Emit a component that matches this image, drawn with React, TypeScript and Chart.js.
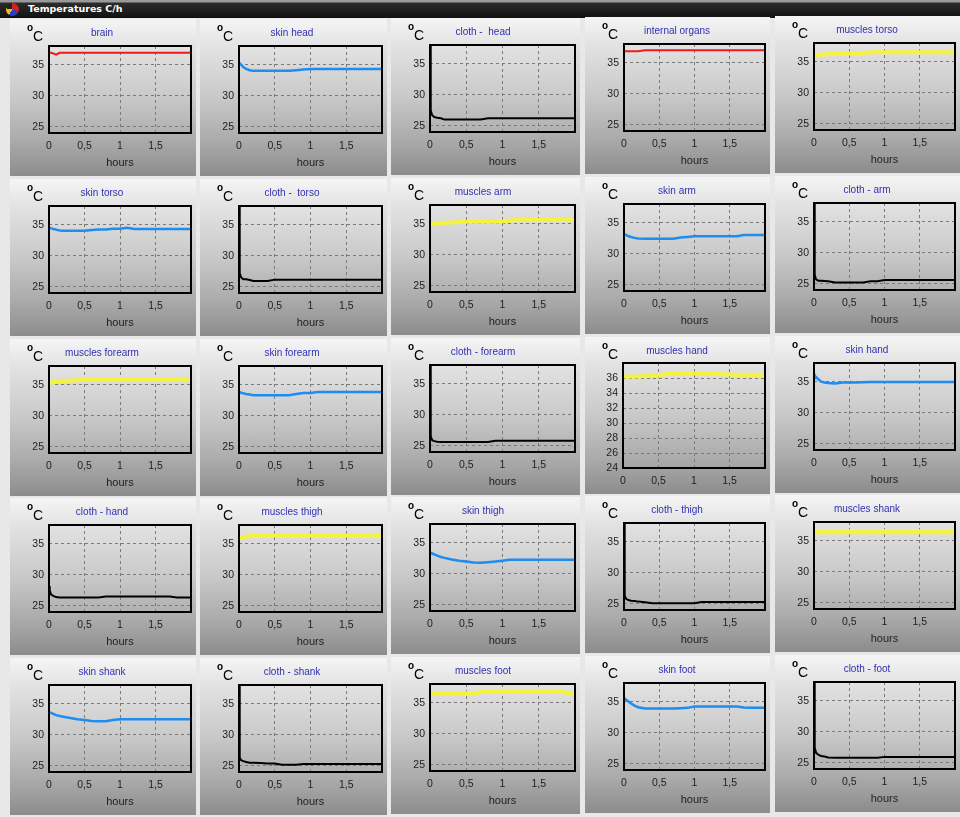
import React, { useEffect, useRef } from 'react';
import { Chart, registerables } from 'chart.js';

Chart.register(...registerables);

// ---------- DATA ----------
const TIME = [0, 0.01, 0.03, 0.06, 0.1, 0.15, 0.2, 0.3, 0.4, 0.5, 0.6, 0.7, 0.8, 0.9, 1.0, 1.1, 1.2, 1.4, 1.6, 1.7, 1.8, 2.0];

const X_TICKS = [0, 0.5, 1, 1.5];
const X_TICK_LABELS = ['0', '0,5', '1', '1,5'];
const Y_TICKS = [25, 30, 35];
const Y_TICKS_FINE = [24, 26, 28, 30, 32, 34, 36];
const Y_MIN = 24;
const Y_MAX = 38;
const X_MIN = 0;
const X_MAX = 2;

const BRAIN = [36.9, 36.9, 36.9, 36.8, 36.6, 36.9, 36.9, 36.9, 36.9, 36.9, 36.9, 36.9, 36.9, 36.9, 36.9, 36.9, 36.9, 36.9, 36.9, 36.9, 36.9, 36.9];
const SKIN_HEAD = [35.3, 35.2, 35.0, 34.6, 34.3, 34.1, 34.0, 34.0, 34.0, 34.0, 34.0, 34.0, 34.1, 34.2, 34.3, 34.3, 34.3, 34.3, 34.3, 34.3, 34.3, 34.3];
const CLOTH_HEAD = [37.9, 27.5, 26.7, 26.4, 26.3, 26.2, 26.0, 26.0, 26.0, 26.0, 26.0, 26.0, 26.2, 26.2, 26.2, 26.2, 26.2, 26.2, 26.2, 26.2, 26.2, 26.2];
const INTERNAL_ORGANS = [36.85, 36.85, 36.85, 36.85, 36.85, 36.85, 36.85, 37.0, 37.0, 37.0, 37.0, 37.0, 37.0, 37.0, 37.0, 37.0, 37.0, 37.0, 37.0, 37.0, 37.0, 37.0];
const MUSCLES_TORSO = [36.1, 36.1, 36.1, 36.1, 36.1, 36.15, 36.2, 36.3, 36.3, 36.3, 36.35, 36.4, 36.5, 36.5, 36.5, 36.5, 36.5, 36.5, 36.5, 36.5, 36.5, 36.5];

const SKIN_TORSO = [34.5, 34.5, 34.4, 34.3, 34.2, 34.05, 34.0, 34.0, 34.0, 34.0, 34.15, 34.2, 34.2, 34.35, 34.35, 34.5, 34.3, 34.3, 34.3, 34.3, 34.3, 34.3];
const CLOTH_TORSO = [37.9, 27.2, 26.5, 26.2, 26.2, 26.1, 25.95, 25.95, 25.95, 26.15, 26.15, 26.15, 26.15, 26.15, 26.15, 26.15, 26.15, 26.15, 26.15, 26.15, 26.15, 26.15];
const MUSCLES_ARM = [34.85, 34.9, 34.95, 35.0, 35.05, 35.1, 35.15, 35.2, 35.25, 35.3, 35.3, 35.3, 35.3, 35.3, 35.35, 35.5, 35.6, 35.6, 35.6, 35.6, 35.6, 35.6];
const SKIN_ARM = [33.2, 33.15, 33.0, 32.85, 32.7, 32.55, 32.45, 32.4, 32.4, 32.4, 32.4, 32.4, 32.6, 32.7, 32.8, 32.8, 32.8, 32.8, 32.8, 33.0, 33.0, 33.0];
const CLOTH_ARM = [37.9, 26.4, 25.7, 25.5, 25.5, 25.45, 25.4, 25.2, 25.2, 25.2, 25.2, 25.2, 25.4, 25.4, 25.6, 25.6, 25.6, 25.6, 25.6, 25.6, 25.6, 25.6];

const MUSCLES_FOREARM = [35.25, 35.3, 35.35, 35.4, 35.45, 35.5, 35.6, 35.65, 35.7, 35.75, 35.75, 35.8, 35.8, 35.85, 35.9, 35.9, 35.9, 35.9, 35.9, 35.9, 35.9, 35.9];
const SKIN_FOREARM = [33.85, 33.8, 33.7, 33.6, 33.5, 33.4, 33.3, 33.3, 33.3, 33.3, 33.3, 33.3, 33.5, 33.65, 33.65, 33.8, 33.8, 33.8, 33.8, 33.8, 33.8, 33.8];
const CLOTH_FOREARM = [37.9, 26.5, 25.9, 25.75, 25.65, 25.6, 25.6, 25.6, 25.6, 25.6, 25.6, 25.6, 25.6, 25.8, 25.8, 25.8, 25.8, 25.8, 25.8, 25.8, 25.8, 25.8];
const MUSCLES_HAND = [36.2, 36.2, 36.2, 36.2, 36.2, 36.2, 36.2, 36.25, 36.3, 36.35, 36.5, 36.6, 36.6, 36.6, 36.6, 36.6, 36.6, 36.5, 36.45, 36.45, 36.45, 36.45];
const SKIN_HAND = [36.2, 36.0, 35.7, 35.4, 35.0, 34.85, 34.8, 34.7, 34.85, 34.85, 34.85, 34.9, 34.95, 34.95, 34.95, 34.95, 34.95, 34.95, 34.95, 34.95, 34.95, 34.95];

const CLOTH_HAND = [28.2, 27.5, 26.8, 26.6, 26.4, 26.35, 26.35, 26.35, 26.35, 26.35, 26.35, 26.35, 26.5, 26.5, 26.5, 26.5, 26.5, 26.5, 26.5, 26.5, 26.35, 26.35];
const MUSCLES_THIGH = [35.85, 35.9, 35.95, 36.05, 36.15, 36.25, 36.3, 36.3, 36.3, 36.3, 36.3, 36.3, 36.3, 36.3, 36.3, 36.3, 36.3, 36.3, 36.3, 36.3, 36.3, 36.3];
const SKIN_THIGH = [33.4, 33.35, 33.25, 33.1, 32.9, 32.7, 32.55, 32.3, 32.1, 31.95, 31.8, 31.75, 31.85, 31.95, 32.1, 32.25, 32.25, 32.25, 32.25, 32.25, 32.25, 32.25];
const CLOTH_THIGH = [37.9, 26.3, 25.8, 25.6, 25.5, 25.45, 25.35, 25.25, 25.1, 25.1, 25.1, 25.1, 25.1, 25.1, 25.1, 25.3, 25.3, 25.3, 25.3, 25.3, 25.3, 25.3];
const MUSCLES_SHANK = [36.45, 36.45, 36.45, 36.45, 36.45, 36.45, 36.45, 36.45, 36.45, 36.45, 36.45, 36.45, 36.45, 36.45, 36.45, 36.45, 36.45, 36.45, 36.45, 36.45, 36.45, 36.45];

const SKIN_SHANK = [33.65, 33.6, 33.5, 33.35, 33.15, 33.0, 32.9, 32.7, 32.5, 32.35, 32.2, 32.15, 32.15, 32.35, 32.5, 32.5, 32.5, 32.5, 32.5, 32.5, 32.5, 32.5];
const CLOTH_SHANK = [37.9, 26.3, 25.9, 25.75, 25.6, 25.5, 25.5, 25.45, 25.35, 25.35, 25.15, 25.15, 25.15, 25.3, 25.3, 25.3, 25.3, 25.3, 25.3, 25.3, 25.3, 25.3];
const MUSCLES_FOOT = [36.5, 36.5, 36.5, 36.5, 36.5, 36.5, 36.5, 36.5, 36.5, 36.5, 36.5, 36.7, 36.7, 36.7, 36.7, 36.7, 36.7, 36.7, 36.7, 36.7, 36.7, 36.45];
const SKIN_FOOT = [35.6, 35.5, 35.3, 35.05, 34.7, 34.35, 34.1, 33.9, 33.9, 33.9, 33.9, 33.9, 33.95, 34.0, 34.2, 34.2, 34.2, 34.2, 34.2, 34.05, 34.0, 34.0];
const CLOTH_FOOT = [37.9, 27.4, 26.6, 26.3, 26.1, 26.0, 25.85, 25.8, 25.8, 25.8, 25.8, 25.8, 25.8, 25.8, 25.95, 25.95, 25.95, 25.95, 25.95, 25.95, 25.95, 25.95];

const TITLES = [
  'brain', 'skin head', 'cloth -  head', 'internal organs', 'muscles torso',
  'skin torso', 'cloth -  torso', 'muscles arm', 'skin arm', 'cloth - arm',
  'muscles forearm', 'skin forearm', 'cloth - forearm', 'muscles hand', 'skin hand',
  'cloth - hand', 'muscles thigh', 'skin thigh', 'cloth - thigh', 'muscles shank',
  'skin shank', 'cloth - shank', 'muscles foot', 'skin foot', 'cloth - foot',
];

const SERIES = [
  BRAIN, SKIN_HEAD, CLOTH_HEAD, INTERNAL_ORGANS, MUSCLES_TORSO,
  SKIN_TORSO, CLOTH_TORSO, MUSCLES_ARM, SKIN_ARM, CLOTH_ARM,
  MUSCLES_FOREARM, SKIN_FOREARM, CLOTH_FOREARM, MUSCLES_HAND, SKIN_HAND,
  CLOTH_HAND, MUSCLES_THIGH, SKIN_THIGH, CLOTH_THIGH, MUSCLES_SHANK,
  SKIN_SHANK, CLOTH_SHANK, MUSCLES_FOOT, SKIN_FOOT, CLOTH_FOOT,
];

const KINDS = [
  'core', 'skin', 'cloth', 'core', 'muscle',
  'skin', 'cloth', 'muscle', 'skin', 'cloth',
  'muscle', 'skin', 'cloth', 'muscle', 'skin',
  'cloth', 'muscle', 'skin', 'cloth', 'muscle',
  'skin', 'cloth', 'muscle', 'skin', 'cloth',
];

// ---------- STYLE / LAYOUT ----------
const KIND_STYLE: Record<string, { color: string; width: number }> = {
  core: { color: '#f01a1a', width: 2 },
  skin: { color: '#1e8cf0', width: 2.5 },
  cloth: { color: '#000000', width: 2 },
  muscle: { color: '#f4f43c', width: 4 },
};

const COL_X = [10, 200, 391, 585, 775];
const COL_W = [186, 187, 189, 185, 185];
const COL_DY = [0, 0, -1, -2, -3];
const ROW_Y = [19, 179, 339, 498, 658];
const PANEL_H = 157;
const FONT = '"Liberation Sans", Arial, sans-serif';

const framePlugin = {
  id: 'frame',
  afterDatasetsDraw(chart: any) {
    const { ctx, chartArea } = chart;
    ctx.save();
    ctx.strokeStyle = '#000';
    ctx.lineWidth = 2;
    ctx.strokeRect(chartArea.left, chartArea.top, chartArea.right - chartArea.left, chartArea.bottom - chartArea.top);
    ctx.restore();
  },
};

function Panel({ index }: { index: number }) {
  const ref = useRef<HTMLCanvasElement>(null);
  const r = Math.floor(index / 5);
  const c = index % 5;
  const left = COL_X[c];
  const top = ROW_Y[r] + COL_DY[c];
  const w = COL_W[c];
  const h = PANEL_H;
  const fine = TITLES[index] === 'muscles hand';
  const style = KIND_STYLE[KINDS[index]];

  useEffect(() => {
    if (!ref.current) return;
    const values = SERIES[index];
    const yTicks = fine ? Y_TICKS_FINE : Y_TICKS;
    const plotTop = fine ? 26 : 27;
    const xAxisH = fine ? 26 : 43;
    const chart = new Chart(ref.current, {
      type: 'line',
      data: {
        datasets: [
          {
            data: TIME.map((t, i) => ({ x: t, y: values[i] })),
            borderColor: style.color,
            borderWidth: TITLES[index] === 'muscles shank' ? 5 : style.width,
            pointRadius: 0,
            tension: 0,
            fill: false,
          },
        ],
      },
      options: {
        animation: false,
        responsive: false,
        events: [],
        layout: { padding: { top: plotTop, right: 5, left: 0, bottom: 0 } },
        plugins: { legend: { display: false }, tooltip: { enabled: false }, title: { display: false } },
        scales: {
          x: {
            type: 'linear',
            min: X_MIN,
            max: X_MAX,
            afterBuildTicks: (axis: any) => {
              axis.ticks = X_TICKS.map((v) => ({ value: v }));
            },
            afterFit: (axis: any) => {
              axis.height = xAxisH;
            },
            ticks: {
              autoSkip: false,
              maxRotation: 0,
              padding: 7,
              color: '#1e1e1e',
              font: { family: FONT, size: 10.5 },
              callback: (v: any) => {
                const k = X_TICKS.indexOf(Number(v));
                return k >= 0 ? X_TICK_LABELS[k] : '';
              },
            },
            grid: { color: '#7a7a7a', lineWidth: 1, drawTicks: false },
            border: { display: false, dash: [3, 3] },
            title: {
              display: !fine,
              text: 'hours',
              color: '#1e1e1e',
              font: { family: FONT, size: 11 },
              padding: { top: 0, bottom: 6 },
            },
          },
          y: {
            type: 'linear',
            min: Y_MIN,
            max: Y_MAX,
            afterBuildTicks: (axis: any) => {
              axis.ticks = yTicks.map((v) => ({ value: v }));
            },
            afterFit: (axis: any) => {
              axis.width = fine ? 38 : 39;
            },
            ticks: {
              autoSkip: false,
              padding: 5,
              color: '#1e1e1e',
              font: { family: FONT, size: 10.5 },
            },
            grid: { color: '#7a7a7a', lineWidth: 1, drawTicks: false },
            border: { display: false, dash: [3, 3] },
          },
        },
      },
      plugins: [framePlugin],
    } as any);
    return () => chart.destroy();
  }, []);

  return (
    <div
      style={{
        position: 'absolute',
        left,
        top,
        width: w,
        height: h,
        background: 'linear-gradient(to bottom, #f5f5f5 0%, #e2e2e2 18%, #c9c9c9 50%, #aaaaaa 78%, #8c8c8c 100%)',
        overflow: 'hidden',
      }}
    >
      <canvas ref={ref} width={w} height={h} style={{ position: 'absolute', left: 0, top: 0, width: w, height: h }} />
      <span style={{ position: 'absolute', left: 17, top: 4, fontFamily: FONT, fontSize: 10, fontWeight: 'bold', lineHeight: '10px', color: '#000' }}>o</span>
      <span style={{ position: 'absolute', left: 23, top: 10, fontFamily: FONT, fontSize: 14, lineHeight: '14px', color: '#000' }}>C</span>
      <div
        style={{
          position: 'absolute',
          left: 92 - 70,
          width: 140,
          top: 9,
          textAlign: 'center',
          fontFamily: FONT,
          fontSize: 10,
          lineHeight: '10px',
          color: '#3030b4',
          whiteSpace: 'pre',
        }}
      >
        {TITLES[index]}
      </div>
    </div>
  );
}

export default function App() {
  return (
    <div style={{ position: 'absolute', left: 0, top: 0, width: 960, height: 817, background: '#e8e8e8', overflow: 'hidden' }}>
      <div
        style={{
          position: 'absolute',
          left: 0,
          top: 0,
          width: 960,
          height: 18,
          background: 'linear-gradient(to bottom, #9a9a9a 0px, #9a9a9a 2px, #2c2c2c 3px, #111 18px)',
        }}
      >
        <div
          style={{
            position: 'absolute',
            left: 6,
            top: 3,
            width: 13,
            height: 13,
            borderRadius: '50%',
            background: 'conic-gradient(#d42020 0 30%, #2a3fc8 30% 60%, #e8c020 60% 78%, #202020 78%)',
          }}
        />
        <div
          style={{
            position: 'absolute',
            left: 28,
            top: 3,
            fontFamily: '"DejaVu Sans", Verdana, sans-serif',
            fontSize: 9.5,
            fontWeight: 'bold',
            lineHeight: '12px',
            color: '#fff',
          }}
        >
          Temperatures C/h
        </div>
      </div>
      {TITLES.map((_, i) => (
        <Panel key={i} index={i} />
      ))}
    </div>
  );
}
